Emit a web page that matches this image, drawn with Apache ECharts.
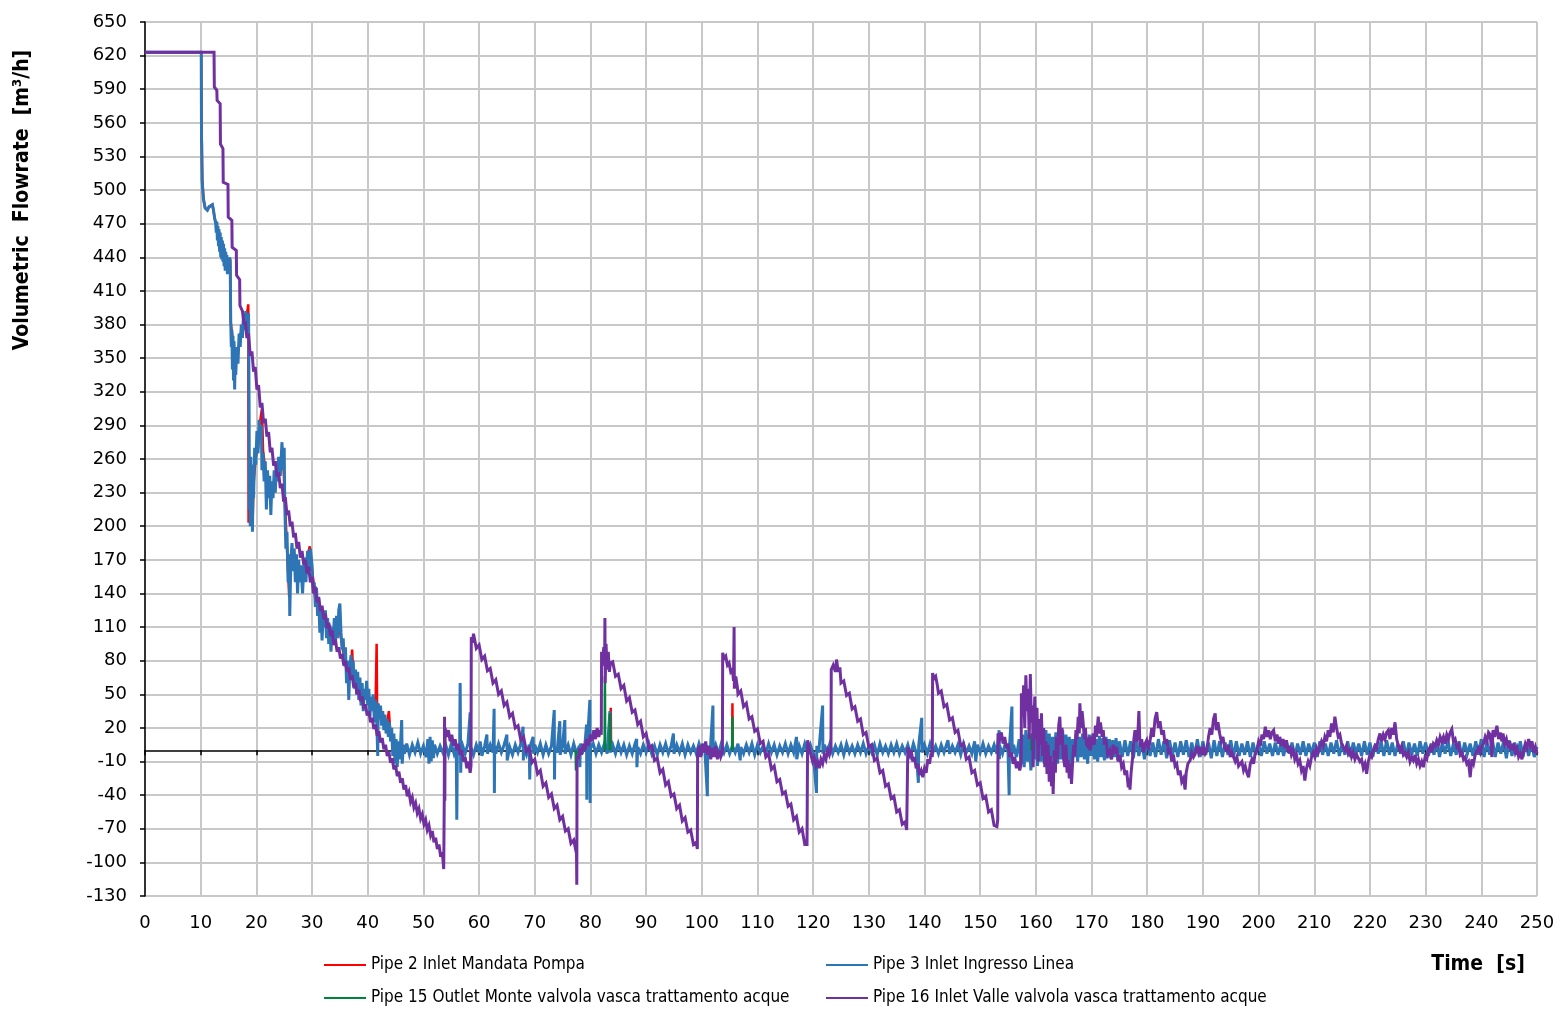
<!DOCTYPE html>
<html>
<head>
<meta charset="utf-8">
<script src="https://cdn.jsdelivr.net/npm/echarts@6/dist/echarts.min.js"></script>
<style>
html,body{margin:0;padding:0;background:#fff;}
#chart{width:1561px;height:1010px;}
</style>
</head>
<body>
<div id="chart"></div>
<script>
// ---------- DATA ----------
const seriesNames = [
  'Pipe 2 Inlet Mandata Pompa',
  'Pipe 3 Inlet Ingresso Linea',
  'Pipe 15 Outlet Monte valvola vasca trattamento acque',
  'Pipe 16 Inlet Valle valvola vasca trattamento acque'
];
const xTicks = {min: 0, max: 250, step: 10};
const yTicks = {min: -130, max: 650, step: 30};

// Pipe 2 (red) - [time s, flowrate m3/h]
const pipe2 = [
[0,623],[10.1,623],[10.15,546],[10.3,509],[10.5,492],[10.8,484],[11.2,482],[11.5,485],[11.8,484],[12.1,487],[12.3,482],[12.5,475],
[12.9,468],[13.3,455],[13.7,448],[14.1,442],[14.5,440],[14.9,434],[15.3,436],[15.4,382],[15.8,365],[16.2,345],[16.7,355],[17.3,375],
[17.9,378],[18.4,392],[18.55,398],[18.6,203],[18.7,250],[18.9,215],[19.1,240],[19.3,198],[19.5,238],[19.9,262],[20.3,270],[20.6,290],
[20.8,298],[21.0,305],[21.2,268],[21.6,250],[22.0,238],[22.6,225],[23.2,240],[23.8,245],[24.4,255],[24.8,262],[25.1,225],[25.5,180],
[25.9,137],[26.1,165],[26.6,170],[27.2,160],[27.8,158],[28.4,160],[29.0,170],[29.6,182],[30.0,162],[30.6,135],[31.2,128],[31.8,115],
[32.4,112],[33.0,105],[33.6,100],[34.2,110],[34.8,112],[35.2,100],[35.6,88],[36.2,72],[36.6,62],[37.0,75],[37.2,90],[37.4,68],
[37.8,62],[38.4,55],[39.0,48],[39.6,48],[40.2,42],[40.8,40],[41.4,36],[41.6,95],[41.7,32],[42.2,30],[42.8,25],[43.4,22],[43.8,35],
[44.0,20],[44.6,8],[45.2,2],[45.8,0],[46.4,1],[47.0,0],[47.05,null],
[83.6,0],[83.65,38],[83.7,0],[83.75,null],
[105.45,0],[105.5,42],[105.55,0]
];

// Pipe 3 (blue)
const pipe3 = [
[0,623],[10.1,623],[10.15,546],[10.2,540],[10.25,509],[10.5,492],[10.8,484],[11.2,482],[11.5,485],[11.8,484],[12.1,487],[12.3,482],[12.5,475],
[12.7,470],[12.8,462],[12.9,472],[13.0,455],[13.1,468],[13.2,450],[13.3,465],[13.4,445],[13.5,462],[13.6,440],[13.7,458],[13.8,438],
[13.9,455],[14.0,436],[14.1,452],[14.2,432],[14.3,448],[14.4,428],[14.5,445],[14.6,430],[14.7,442],[14.8,425],[14.9,438],[15.0,430],
[15.2,440],[15.3,436],[15.4,382],[15.5,360],[15.6,375],[15.7,340],[15.8,370],[15.9,330],[16.0,365],[16.1,322],[16.2,350],[16.3,335],
[16.5,360],[16.7,345],[16.9,372],[17.1,360],[17.3,380],[17.5,368],[17.7,390],[17.9,375],[18.1,392],[18.3,380],[18.5,385],[18.6,390],
[18.7,300],[18.75,215],[18.8,250],[18.9,200],[19.0,262],[19.1,205],[19.2,255],[19.3,195],[19.4,240],[19.5,225],[19.7,270],[19.9,255],
[20.1,285],[20.3,265],[20.5,295],[20.7,280],[20.9,290],[21.0,250],[21.2,265],[21.4,240],[21.6,258],[21.8,215],[22.0,250],[22.2,225],
[22.4,245],[22.6,210],[22.8,240],[23.0,225],[23.2,250],[23.4,230],[23.6,255],[23.8,240],[24.0,262],[24.3,245],[24.6,275],[24.8,250],
[25.0,270],[25.1,220],[25.3,180],[25.5,195],[25.7,150],[25.9,175],[26.0,120],[26.2,170],[26.4,185],[26.6,160],[26.8,180],[27.0,150],
[27.2,175],[27.4,140],[27.6,170],[27.8,150],[28.0,165],[28.3,140],[28.6,172],[28.9,150],[29.2,178],[29.5,160],[29.7,180],[30.0,165],
[30.2,140],[30.4,150],[30.6,128],[30.8,145],[31.0,120],[31.2,135],[31.4,105],[31.6,125],[31.8,98],[32.0,120],[32.2,110],[32.4,125],
[32.6,100],[32.8,118],[33.0,95],[33.2,112],[33.4,88],[33.6,110],[33.8,100],[34.0,118],[34.2,95],[34.4,120],[34.6,100],[34.8,125],
[35.0,131],[35.2,105],[35.4,90],[35.6,100],[35.8,75],[36.0,92],[36.2,60],[36.4,80],[36.6,45],[36.8,75],[37.0,85],[37.2,65],[37.4,80],
[37.6,55],[37.8,72],[38.0,50],[38.2,70],[38.4,45],[38.6,65],[38.8,40],[39.0,60],[39.2,35],[39.4,55],[39.6,45],[39.8,62],[40.0,40],
[40.2,55],[40.4,30],[40.6,48],[40.8,35],[41.0,50],[41.2,25],[41.4,45],[41.6,30],[41.8,-5],[41.9,42],[42.1,28],[42.3,40],[42.5,22],
[42.7,35],[42.9,18],[43.1,32],[43.3,15],[43.5,28],[43.7,12],[43.9,25],[44.1,8],[44.3,20],[44.5,-5],[44.7,15],[44.9,-12],[45.1,10],
[45.3,-15],[45.5,8],[45.7,-8],[45.9,6],[46.1,27],[46.2,-12],[46.4,5],[46.6,-3],
[47.0,6],[47.5,-4],[48.0,5],[48.5,-2],[49.0,7],[49.5,-3],[50.0,4],[50.5,-6],[50.8,10],[51.0,-12],[51.2,12],[51.4,-10],[51.6,9],
[51.8,-7],[52.0,5],[52.5,-3],[53.0,4],[53.5,-2],[54.0,5],[54.5,-4],[55.0,6],[55.5,-3],[55.9,4],[56.0,-62],[56.1,3],[56.5,-4],
[56.6,60],[56.7,-20],[56.8,2],[57.0,5],[57.5,-3],[58.0,6],[58.4,34],[58.45,-10],[58.5,3],[59.0,-4],[59.5,5],[60.0,-2],[60.2,8],
[60.5,-5],[61.0,4],[61.4,14],[61.5,-3],[62.0,5],[62.5,-2],[62.7,37],[62.75,-38],[62.8,4],[63.0,-3],[63.5,6],[64.0,-2],[64.5,5],
[65.0,14],[65.05,-9],[65.5,3],[66.0,-4],[66.5,5],[67.0,-2],[67.5,6],[67.9,21],[67.95,-9],[68.0,3],[68.5,-4],[69.0,5],[69.1,-26],
[69.2,4],[69.7,12],[69.8,-3],[70.0,5],[70.5,-2],[71.0,6],[71.5,-4],[72.0,5],[72.5,-3],[73.0,4],[73.5,36],[73.55,-26],[73.6,3],
[74.0,-2],[74.5,26],[74.55,-4],[75.0,5],[75.4,27],[75.45,-3],[76.0,5],[76.5,-4],[77.0,6],[77.5,-3],[78.0,4],[78.1,-15],[78.2,6],
[78.5,-3],[79.0,5],[79.3,23],[79.35,-44],[79.4,3],[79.9,45],[79.95,-47],[80.0,2],[80.5,6],[81.0,-3],[81.5,5],[82.0,-2],[82.5,6],
[83.0,-3],[83.5,35],[83.55,-2],[84.0,5],[84.5,-3],[85.0,6],[85.5,-2],[86.0,5],[86.5,-4],[87.0,4],[87.5,-3],[88.0,6],[88.3,10],
[88.35,-15],[88.5,3],[89.0,-3],[89.5,5],[90.0,-2],[90.5,6],[91.0,-3],[91.5,4],[92.0,-4],[92.5,5],[93.0,-2],[93.5,6],[94.0,-3],
[94.5,4],[94.9,15],[95.0,-3],[95.5,5],[96.0,-2],[96.5,6],[97.0,-4],[97.5,5],[98.0,-2],[98.5,4],[99.0,-3],[99.5,6],[100.0,-2],
[100.5,5],[101.0,-41],[101.05,4],[101.5,-3],[102.0,40],[102.05,-2],[102.5,5],[103.0,-3],[103.5,6],[104.0,-2],[104.5,5],[105.0,-3],
[105.5,4],[106.0,-2],[106.5,6],[106.9,-9],[107.0,3],[107.5,-3],[108.0,5],[108.5,-2],[109.0,6],[109.5,-4],[110.0,5],[110.5,-2],
[111.0,4],[111.5,-3],[112.0,6],[112.5,-2],[113.0,5],[113.5,-4],[114.0,4],[114.5,-2],[115.0,6],[115.5,-3],[116.0,5],[116.5,-2],
[117.0,12],[117.05,-8],[117.5,4],[118.0,-3],[118.5,6],[119.0,-2],[119.5,5],[120.0,-3],[120.6,-38],[120.65,4],[121.0,-2],[121.7,40],
[121.75,-3],[122.0,5],[122.5,-2],[123.0,6],[123.5,-3],[124.0,4],[124.5,-2],[125.0,5],[125.5,-4],[126.0,6],[126.5,-2],[127.0,4],
[127.5,-3],[128.0,5],[128.5,-2],[129.0,6],[129.5,-3],[130.0,4],[130.5,-2],[131.0,5],[131.5,-4],[132.0,6],[132.5,-2],[133.0,4],
[133.5,-3],[134.0,5],[134.5,-2],[135.0,6],[135.5,-3],[136.0,4],[136.5,-2],[137.0,5],[137.5,-4],[138.0,6],[138.5,-2],[138.9,-29],
[138.95,4],[139.5,29],[139.55,-2],[140.0,5],[140.5,-3],[141.0,6],[141.5,-2],[142.0,4],[142.5,-3],[143.0,5],[143.5,-2],[144.0,6],
[144.2,9],[144.5,-3],[145.0,4],[145.5,-2],[146.0,5],[146.5,-4],[147.0,6],[147.5,-2],[148.0,4],[148.5,-3],[149.0,8],[149.2,-10],
[149.5,5],[150.0,-2],[150.5,6],[151.0,-3],[151.5,4],[152.0,-2],[152.5,5],[153.0,-3],[153.4,18],[153.45,-8],[153.5,4],[154.0,-3],
[154.5,6],[155.0,-2],[155.2,-40],[155.25,3],[155.7,39],[155.75,-3],[156.0,5],[156.5,-6],[157.0,10],[157.3,-12],[157.6,14],[157.9,-15],
[158.2,18],[158.5,-10],[158.8,15],[159.1,-18],[159.4,12],[159.7,-8],[160.0,20],[160.3,-14],[160.6,16],[160.9,-10],[161.2,14],
[161.5,-12],[161.8,18],[162.1,-8],[162.4,15],[162.7,-14],[163.0,12],[163.3,-6],[163.6,16],[163.9,-12],[164.2,20],[164.5,-8],
[164.8,18],[165.1,-10],[165.4,14],[165.7,-8],[166.0,12],[166.3,-14],[166.6,10],[166.9,-6],[167.2,14],[167.5,-10],[167.8,12],
[168.1,-6],[168.4,15],[168.7,-8],[169.0,10],[169.3,-12],[169.6,14],[169.9,-5],[170.2,12],[170.5,-8],[170.8,10],[171.1,-10],
[171.4,13],[171.7,-6],[172.0,11],[172.3,-9],[172.6,12],[172.9,-7],[173.2,10],[173.5,-8],[173.8,9],[174.1,-6],[174.4,11],[174.7,-9],
[175.0,8],[175.5,-6],[176.0,9],[176.5,-5],[177.0,8],[177.5,-7],[178.0,10],[178.5,-5],[179.0,8],[179.5,-8],[180.0,9],[180.5,-5],
[181.0,7],[181.5,-6],[182.0,10],[182.5,-4],[183.0,8],[183.5,-7],[184.0,9],[184.5,-5],[185.0,7],[185.5,-6],[186.0,8],[186.5,-4],
[187.0,9],[187.5,-6],[188.0,7],[188.5,-5],[189.0,10],[189.5,-6],[190.0,8],[190.5,-4],[191.0,7],[191.5,-7],[192.0,9],[192.5,-5],
[193.0,8],[193.5,-6],[194.0,7],[194.5,-4],[195.0,9],[195.5,-6],[196.0,8],[196.5,-5],[197.0,6],[197.5,-4],[198.0,8],[198.5,-6],
[199.0,7],[199.5,-4],[200.0,6],[200.5,-5],[201.0,8],[201.5,-3],[202.0,6],[202.5,-5],[203.0,7],[203.5,-4],[204.0,6],[204.5,-5],
[205.0,8],[205.5,-3],[206.0,7],[206.5,-6],[207.0,6],[207.5,-4],[208.0,8],[208.5,-5],[209.0,6],[209.5,-3],[210.0,7],[210.5,-6],
[211.0,8],[211.5,-4],[212.0,6],[212.5,-5],[213.0,7],[213.5,-3],[214.0,9],[214.5,-5],[215.0,6],[215.5,-4],[216.0,8],[216.5,-6],
[217.0,7],[217.5,-3],[218.0,6],[218.5,-5],[219.0,8],[219.5,-4],[220.0,7],[220.5,-6],[221.0,6],[221.5,-3],[222.0,8],[222.5,-5],
[223.0,9],[223.5,-4],[224.0,7],[224.5,-5],[225.0,6],[225.5,-3],[226.0,8],[226.5,-6],[227.0,7],[227.5,-4],[228.0,6],[228.5,-5],
[229.0,8],[229.5,-3],[230.0,7],[230.5,-5],[231.0,6],[231.5,-4],[232.0,8],[232.5,-6],[233.0,7],[233.5,-3],[234.0,9],[234.5,-5],
[235.0,6],[235.5,-4],[236.0,8],[236.5,-6],[237.0,7],[237.5,-3],[238.0,6],[238.5,-5],[239.0,8],[239.5,-4],[240.0,10],[240.5,-6],
[241.0,8],[241.5,-4],[242.0,9],[242.5,-6],[243.0,7],[243.5,-3],[244.0,8],[244.5,-7],[245.0,9],[245.5,-5],[246.0,7],[246.5,-4],
[247.0,8],[247.5,-6],[248.0,7],[248.5,-5],[249.0,8],[249.5,-6],[250.0,3]
];

// Pipe 15 (green)
const pipe15 = [
[77.35,0],[77.4,-18],[77.45,0],[77.5,null],
[82.55,0],[82.6,66],[82.65,0],[82.7,null],
[83.45,0],[83.5,33],[83.55,0],[83.6,null],
[105.45,0],[105.5,30],[105.55,0],[105.6,null],
[159.2,0],[159.25,15],[159.3,0]
];

// Pipe 16 (purple)
const pipe16 = [
[0,623],[12.4,623],[12.45,592],[12.9,589],[12.95,580],[13.5,577],[13.55,541],[14.0,537],[14.05,507],[14.9,505],[14.95,476],
[15.6,473],[15.65,449],[16.4,446],[16.45,424],[17.0,420],[17.05,397],
[17.5,392],[17.8,380],[18.0,383],[18.3,368],[18.6,372],[18.9,352],[19.2,356],[19.5,338],[19.8,342],[20.1,322],[20.4,326],[20.7,306],
[21.0,310],[21.3,292],[21.6,296],[21.9,280],[22.2,284],[22.5,266],[22.8,270],[23.1,254],[23.4,258],[23.7,244],[24.0,248],[24.3,234],
[24.6,238],[24.9,222],[25.2,226],[25.5,210],[25.8,214],[26.1,200],[26.4,204],[26.7,190],[27.0,194],[27.3,180],[27.6,186],[27.9,172],
[28.2,178],[28.5,166],[28.8,170],[29.1,158],[29.4,164],[29.7,150],[30.0,155],[30.3,140],[30.6,146],[30.9,132],[31.2,137],[31.5,124],
[31.8,129],[32.1,117],[32.4,122],[32.7,109],[33.0,114],[33.3,102],[33.6,107],[33.9,94],[34.2,99],[34.5,88],[34.8,92],[35.1,82],
[35.4,86],[35.7,76],[36.0,80],[36.3,70],[36.6,74],[36.9,63],[37.2,67],[37.5,56],[37.8,60],[38.1,50],[38.4,54],[38.7,44],[39.0,48],
[39.3,37],[39.6,41],[39.9,31],[40.2,35],[40.5,25],[40.8,29],[41.1,19],[41.4,23],[41.7,13],[42.0,17],[42.3,7],[42.6,11],[42.9,1],
[43.2,5],[43.5,-5],[43.8,-1],[44.1,-11],[44.4,-7],[44.7,-17],[45.0,-13],[45.3,-23],[45.6,-19],[45.9,-29],[46.2,-25],[46.5,-35],
[46.8,-31],[47.1,-41],[47.4,-37],[47.7,-46],[48.0,-42],[48.3,-51],[48.6,-47],[48.9,-56],[49.2,-52],[49.5,-61],[49.8,-57],[50.1,-66],
[50.4,-62],[50.7,-71],[51.0,-67],[51.3,-76],[51.6,-72],[51.9,-82],[52.2,-78],[52.5,-88],[52.8,-84],[53.1,-95],[53.4,-91],[53.65,-106],
[53.75,-40],[53.8,30],[53.85,-45],[53.9,20],[54.2,12],[54.5,18],[54.8,8],[55.1,14],[55.4,4],[55.7,10],[56.0,0],[56.3,6],[56.6,-4],
[56.9,0],[57.2,-10],[57.5,-6],[57.8,-16],[58.1,-10],[58.4,-20],[58.55,-14],[58.6,101],[58.8,96],
[59.0,104],[59.5,91],[60.0,94],[60.5,81],[61.0,84],[61.5,71],[62.0,73],[62.5,60],[63.0,63],[63.5,50],[64.0,53],[64.5,40],[65.0,43],
[65.5,30],[66.0,33],[66.5,20],[67.0,22],[67.5,9],[68.0,12],[68.5,-1],[69.0,2],[69.5,-11],[70.0,-8],[70.5,-21],[71.0,-18],[71.5,-32],
[72.0,-29],[72.5,-42],[73.0,-39],[73.5,-52],[74.0,-49],[74.5,-62],[75.0,-59],[75.5,-72],[76.0,-70],[76.5,-83],[77.0,-80],[77.4,-90],
[77.5,-92],[77.55,-120],[77.6,-5],[77.8,-8],[78.1,2],[78.4,-4],[78.7,6],[79.0,0],[79.3,10],[79.6,4],[80.0,14],[80.3,8],[80.6,18],
[80.9,10],[81.2,20],[81.5,12],[81.8,18],[81.95,14],[82.0,88],[82.2,80],[82.4,92],[82.55,75],[82.6,118],[82.65,60],[82.8,95],
[83.0,72],[83.2,88],[83.4,70],[83.6,78],
[84.0,79],[84.5,66],[85.0,68],[85.5,55],[86.0,58],[86.5,44],[87.0,47],[87.5,34],[88.0,36],[88.5,23],[89.0,26],[89.5,12],[90.0,15],
[90.5,2],[91.0,4],[91.5,-9],[92.0,-7],[92.5,-20],[93.0,-17],[93.5,-31],[94.0,-28],[94.5,-41],[95.0,-39],[95.5,-52],[96.0,-49],
[96.5,-63],[97.0,-60],[97.5,-73],[98.0,-71],[98.5,-84],[99.0,-82],[99.2,-88],
[99.25,-3],[99.5,4],[99.8,-6],[100.1,6],[100.4,-2],[100.7,8],[101.0,-4],[101.3,4],[101.6,-8],[101.9,2],[102.2,-6],[102.5,4],
[102.8,-8],[103.1,0],[103.4,-6],[103.7,-2],[103.75,87],[104.0,82],[104.3,84],[104.6,76],[104.9,78],[105.2,70],[105.5,72],[105.7,62],
[105.8,110],[105.85,55],[106.1,66],[106.4,56],
[106.5,50],[107.0,53],[107.5,39],[108.0,42],[108.5,28],[109.0,30],[109.5,17],[110.0,19],[110.5,6],[111.0,8],[111.5,-6],[112.0,-3],
[112.5,-17],[113.0,-14],[113.5,-28],[114.0,-26],[114.5,-39],[115.0,-37],[115.5,-50],[116.0,-48],[116.5,-62],[117.0,-59],[117.5,-73],
[118.0,-70],[118.5,-84],[118.9,-84],
[119.0,9],[119.3,2],[119.6,-4],[119.9,-10],[120.2,-6],[120.5,-14],[120.8,-10],[121.1,-16],[121.4,-8],[121.7,-12],[122.0,-4],
[122.3,-8],[122.6,0],[122.9,-4],[123.2,2],[123.25,72],[123.6,76],[124.0,70],[124.2,81],[124.5,70],[124.8,74],
[125.0,60],[125.5,62],[126.0,49],[126.5,51],[127.0,37],[127.5,39],[128.0,26],[128.5,28],[129.0,14],[129.5,16],[130.0,3],[130.5,5],
[131.0,-9],[131.5,-7],[132.0,-20],[132.5,-18],[133.0,-32],[133.5,-30],[134.0,-43],[134.5,-41],[135.0,-55],[135.5,-53],[136.0,-66],
[136.5,-64],[136.8,-71],
[137.0,3],[137.3,-4],[137.6,0],[137.9,-10],[138.2,-6],[138.5,-16],[138.8,-12],[139.1,-22],[139.4,-18],[139.7,-24],[140.0,-16],
[140.3,-20],[140.6,-8],[140.9,-12],[141.2,-2],[141.4,-6],[141.45,69],[141.7,64],[142.0,66],[142.3,58],
[142.5,51],[143.0,53],[143.5,39],[144.0,41],[144.5,27],[145.0,29],[145.5,16],[146.0,18],[146.5,4],[147.0,6],[147.5,-8],[148.0,-6],
[148.5,-20],[149.0,-18],[149.5,-31],[150.0,-29],[150.5,-43],[151.0,-41],[151.5,-55],[152.0,-53],[152.5,-67],[153.0,-68],
[153.15,-62],[153.2,15],[153.5,10],[153.8,16],[154.1,6],[154.4,12],[154.7,2],[155.0,6],[155.3,-6],[155.6,-2],[155.9,-12],[156.2,-6],
[156.5,-16],[156.8,-10],[157.1,-18],[157.35,-12],[157.4,51],[157.6,30],[157.8,58],[158.0,20],[158.2,67],[158.4,35],[158.6,55],
[158.8,10],[159.0,68],[159.2,25],[159.4,40],[159.5,-15],[159.7,30],[159.8,48],[160.0,10],[160.2,38],[160.4,-10],[160.6,28],[160.8,5],
[161.0,33],[161.2,-5],[161.4,20],[161.6,-15],[161.8,8],[162.0,-21],[162.2,5],[162.4,-28],[162.6,-5],[162.8,-32],[163.0,-10],
[163.1,-39],[163.3,0],[163.5,-20],[163.7,12],[163.9,-8],[164.1,22],[164.3,30],[164.5,5],[164.7,20],[164.9,-5],[165.2,-15],[165.4,5],
[165.6,-20],[165.8,-8],[166.0,-25],[166.2,-12],[166.4,-30],[166.6,-10],[166.8,5],[167.0,-5],[167.2,18],[167.4,10],[167.6,30],
[167.8,15],[167.9,42],[168.1,20],[168.3,35],[168.5,24],[168.7,10],[168.9,20],[169.1,5],[169.4,3],[169.6,12],[169.8,0],[170.0,8],
[170.3,15],[170.5,5],[170.7,22],[170.9,12],[171.2,30],[171.4,15],[171.6,25],[171.9,12],[172.1,18],[172.3,5],[172.6,10],[172.9,-4],
[173.3,0],[173.6,-8],[173.9,5],[174.2,-3],[174.5,3],[174.8,-10],[175.1,-4],[175.4,-15],[175.7,-12],[176.0,-22],[176.3,-18],
[176.6,-33],[176.8,-25],[176.9,-35],[177.1,-20],[177.4,-5],[177.6,10],[177.8,18],[178.0,8],[178.3,12],[178.5,35],[178.7,3],
[179.0,10],[179.3,-2],[179.6,6],[179.9,9],[180.2,0],[180.5,8],[180.8,20],[181.1,12],[181.4,28],[181.7,34],[182.0,20],[182.3,26],
[182.6,14],[182.9,18],[183.2,6],[183.5,10],[183.8,-2],[184.1,0],[184.4,-10],[184.7,-4],[185.0,-14],[185.3,-12],[185.6,-22],
[185.9,-18],[186.2,-28],[186.5,-25],[186.8,-35],[187.0,-20],[187.3,-12],[187.7,-9],[188.0,-2],[188.3,-6],[188.6,-3],[188.9,4],
[189.2,-2],[189.5,3],[189.8,-4],[190.1,2],[190.4,-3],[190.7,0],[191.0,12],[191.3,20],[191.6,14],[191.9,28],[192.2,33],[192.4,18],
[192.7,25],[193.0,15],[193.3,8],[193.6,12],[193.9,2],[194.3,0],[194.6,5],[194.9,-6],[195.2,-2],[195.5,-3],[195.8,-10],[196.1,-6],
[196.4,-14],[196.7,-15],[197.0,-10],[197.3,-18],[197.6,-14],[197.9,-20],[198.2,-24],[198.5,-12],[198.8,-8],[199.1,-12],[199.4,-2],
[199.7,0],[200.0,8],[200.3,4],[200.6,14],[200.9,10],[201.2,21],[201.5,12],[201.8,18],[202.1,10],[202.4,16],[202.7,18],[203.0,8],
[203.3,14],[203.6,6],[203.8,12],[204.1,4],[204.4,10],[204.7,2],[205.0,9],[205.3,-2],[205.6,4],[205.9,-4],[206.2,0],[206.5,-8],
[206.8,-4],[207.1,-12],[207.4,-9],[207.7,-18],[208.0,-14],[208.3,-27],[208.6,-16],[208.9,-10],[209.2,-14],[209.5,-6],[209.8,-2],
[210.1,-6],[210.4,2],[210.7,-2],[211.0,3],[211.3,8],[211.6,4],[211.9,12],[212.2,8],[212.5,18],[212.8,12],[213.1,24],[213.4,16],
[213.7,30],[214.0,20],[214.3,12],[214.6,14],[214.9,6],[215.2,6],[215.5,0],[215.8,4],[216.1,-3],[216.4,0],[216.7,-6],[217.0,-2],
[217.3,-8],[217.6,-4],[217.9,-3],[218.2,-10],[218.5,-8],[218.8,-16],[219.1,-12],[219.4,-21],[219.7,-10],[220.0,-4],[220.3,-6],
[220.6,0],[220.9,4],[221.2,2],[221.5,10],[221.8,15],[222.1,8],[222.4,14],[222.7,10],[223.0,16],[223.3,18],[223.6,10],[223.9,20],
[224.2,14],[224.5,25],[224.8,10],[225.1,4],[225.4,0],[225.7,4],[226.0,-4],[226.3,-2],[226.6,-6],[226.9,-2],[227.2,-10],[227.5,-6],
[227.8,-9],[228.1,-4],[228.4,-12],[228.7,-8],[229.0,-14],[229.3,-10],[229.6,-15],[229.9,-6],[230.2,-8],[230.5,0],[230.8,3],
[231.1,-2],[231.4,6],[231.7,4],[232.0,9],[232.3,5],[232.6,12],[232.9,8],[233.2,12],[233.5,6],[233.8,14],[234.1,10],[234.4,16],
[234.7,19],[235.0,8],[235.3,10],[235.6,3],[235.9,5],[236.2,-4],[236.5,-2],[236.8,-8],[237.1,-6],[237.4,-12],[237.7,-10],[238.0,-24],
[238.3,-8],[238.6,-12],[238.9,-4],[239.2,-3],[239.5,2],[239.8,-2],[240.1,4],[240.4,6],[240.7,12],[241.0,8],[241.3,16],[241.6,14],
[241.9,-6],[242.1,18],[242.4,12],[242.8,22],[243.1,10],[243.4,16],[243.7,8],[243.9,15],[244.2,6],[244.5,10],[244.8,2],[245.1,8],
[245.4,0],[245.8,6],[246.1,-2],[246.4,2],[246.7,-6],[247.0,-3],[247.3,-8],[247.6,0],[247.9,6],[248.2,2],[248.5,10],[248.8,4],
[249.1,8],[249.4,-2],[249.7,3],[250.0,-3]
];

const colors = {pipe2: '#ff0000', pipe3: '#2e75b6', pipe15: '#00843c', pipe16: '#7030a0'};

// ---------- CHART ----------
const FONT = '"DejaVu Sans", Verdana, sans-serif';
const LEGFONT = '"DejaVu Sans Condensed", "Liberation Sans Narrow", "Liberation Sans", sans-serif';
const chart = echarts.init(document.getElementById('chart'), null, {renderer: 'canvas'});

function lineSeries(name, data, color, z, width) {
  return {
    type: 'line', name: name, data: data, xAxisIndex: 0, yAxisIndex: 0,
    showSymbol: false, symbol: 'none', connectNulls: false, z: z,
    lineStyle: {color: color, width: width, join: 'miter', miterLimit: 4}, itemStyle: {color: color},
    emphasis: {disabled: true}, animation: false
  };
}

function legendItem(name, left, top) {
  return {
    data: [name], left: left, top: top, padding: 0, icon: 'rect',
    itemWidth: 42, itemHeight: 2, itemGap: 0, selectedMode: false,
    textStyle: {fontFamily: LEGFONT, fontSize: 17, color: '#000', lineHeight: 20, padding: [0, 0, 0, 0]}
  };
}

const option = {
  backgroundColor: '#ffffff',
  animation: false,
  textStyle: {fontFamily: FONT},
  grid: {left: 145, right: 24, top: 22, bottom: 114, containLabel: false, outerBoundsMode: 'none'},
  legend: [
    legendItem(seriesNames[0], 324, 955),
    legendItem(seriesNames[1], 826, 955),
    legendItem(seriesNames[2], 324, 988),
    legendItem(seriesNames[3], 826, 988)
  ],
  xAxis: [
    {
      type: 'value', position: 'bottom', min: xTicks.min, max: xTicks.max, interval: xTicks.step,
      axisLine: {show: false, onZero: false},
      axisTick: {show: false},
      axisLabel: {show: true, margin: 18, fontFamily: FONT, fontSize: 18, color: '#000'},
      splitLine: {show: true, lineStyle: {color: '#c8c8c8', width: 2}}
    },
    {
      type: 'value', position: 'bottom', min: xTicks.min, max: xTicks.max, interval: xTicks.step,
      axisLine: {show: true, onZero: true, lineStyle: {color: '#000', width: 1.5}},
      axisTick: {show: true, length: 5, lineStyle: {color: '#000', width: 1.5}},
      axisLabel: {show: false},
      splitLine: {show: false}
    }
  ],
  yAxis: {
    type: 'value', min: yTicks.min, max: yTicks.max, interval: yTicks.step,
    axisLine: {show: true, onZero: false, lineStyle: {color: '#000', width: 1.5}},
    axisTick: {show: true, length: 5, lineStyle: {color: '#000', width: 1.5}},
    axisLabel: {show: true, margin: 18, fontFamily: FONT, fontSize: 18, color: '#000'},
    splitLine: {show: true, lineStyle: {color: '#c8c8c8', width: 2}}
  },
  graphic: [
    {
      type: 'text', x: 23, y: 200, rotation: Math.PI / 2,
      style: {text: 'Volumetric  Flowrate  [m³/h]', font: 'bold 21px ' + LEGFONT, fill: '#000',
              textAlign: 'center', textVerticalAlign: 'middle', align: 'center', verticalAlign: 'middle'}
    },
    {
      type: 'text', x: 1478, y: 965,
      style: {text: 'Time  [s]', font: 'bold 21px ' + LEGFONT, fill: '#000',
              textAlign: 'center', textVerticalAlign: 'middle', align: 'center', verticalAlign: 'middle'}
    }
  ],
  series: [
    lineSeries(seriesNames[0], pipe2, colors.pipe2, 2, 2.5),
    lineSeries(seriesNames[1], pipe3, colors.pipe3, 3, 3),
    lineSeries(seriesNames[2], pipe15, colors.pipe15, 4, 2.5),
    lineSeries(seriesNames[3], pipe16, colors.pipe16, 5, 3)
  ]
};
chart.setOption(option);
</script>
</body>
</html>
